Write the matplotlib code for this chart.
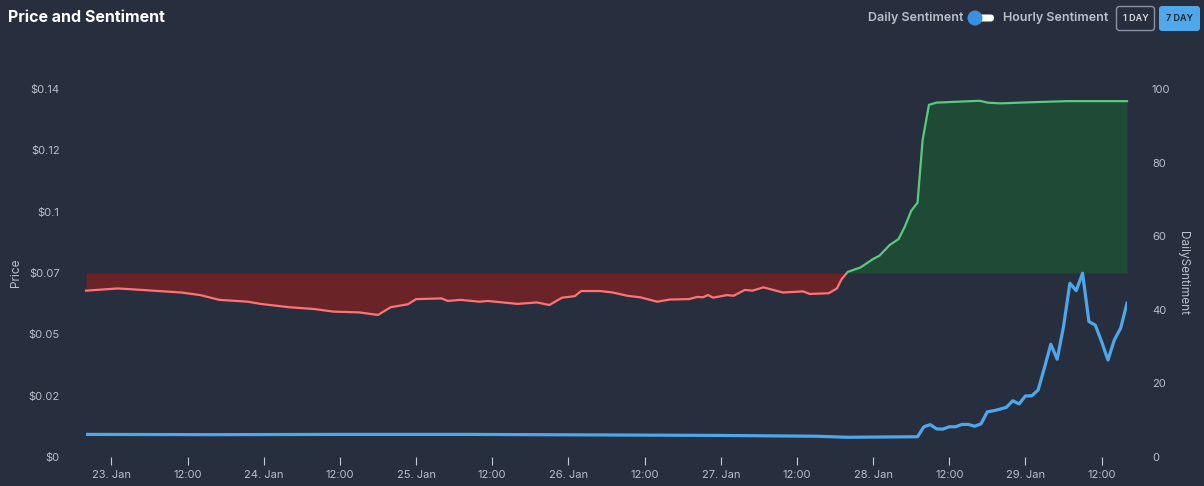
from datetime import datetime, timedelta

import matplotlib
matplotlib.use("Agg")
import matplotlib.pyplot as plt
from matplotlib.patches import Circle, FancyBboxPatch, Rectangle
from matplotlib.ticker import FuncFormatter

plt.rcParams['font.family'] = ['Inter', 'DejaVu Sans']

start = datetime(2023, 1, 22, 20, 0)

# sentiment readings (hours after start, value)
sent_hours = [0, 5, 7, 15, 18, 21, 25.5, 27.5, 32, 36, 39, 43, 46, 48, 50.7, 52,
              56, 57, 59, 62, 63.3, 68, 71, 73, 75, 77, 78, 81, 83, 85.3, 87.3,
              90, 92, 95, 96.3, 97.2, 98, 98.8, 101, 102, 103.8, 105, 106.7,
              109.8, 113, 114, 117, 118.3, 119, 120, 122, 124, 125, 126.6, 128,
              129, 130, 131, 131.8, 132.8, 134, 140.8, 142, 144, 149, 154.5, 164]
sent_values = [45.2, 45.8, 45.6, 44.7, 44.0, 42.7, 42.2, 41.6, 40.7, 40.2, 39.5,
               39.3, 38.6, 40.7, 41.5, 42.9, 43.1, 42.4, 42.7, 42.2, 42.4, 41.6,
               42.0, 41.3, 43.3, 43.7, 45.1, 45.1, 44.7, 43.8, 43.4, 42.2, 42.8,
               42.9, 43.5, 43.4, 44.0, 43.3, 44.0, 43.8, 45.4, 45.2, 46.1, 44.7,
               45.0, 44.3, 44.5, 45.8, 48.2, 50.3, 51.5, 53.8, 54.7, 57.6, 59.2,
               62.6, 66.9, 69.1, 86.1, 95.7, 96.3, 96.8, 96.3, 96.1, 96.4, 96.7,
               96.7]

# price readings (hours after start, USD)
price_hours = [0, 20, 40, 60, 80, 100, 115, 120, 125, 131, 132, 133, 134, 135,
               136, 137, 138, 139, 140, 141, 142, 143, 144, 145, 146, 147, 148,
               149, 150, 151, 152, 153, 154, 155, 156, 157, 158, 159, 160, 161,
               162, 163, 164]
price_values = [0.0086, 0.0085, 0.0086, 0.0086, 0.0084, 0.0082, 0.0079, 0.0075,
                0.0076, 0.0077, 0.0115, 0.0123, 0.0107, 0.0106, 0.0115, 0.0115,
                0.0124, 0.0124, 0.0117, 0.0126, 0.0172, 0.0176, 0.0182, 0.0189,
                0.0214, 0.0202, 0.0232, 0.0233, 0.0255, 0.0340, 0.0429, 0.0372,
                0.0496, 0.0661, 0.0633, 0.0699, 0.0515, 0.0502, 0.0439, 0.0369,
                0.0445, 0.0490, 0.0585]

price_ticks = [0, 0.14 / 6, 0.28 / 6, 0.07, 0.56 / 6, 0.70 / 6, 0.14]
price_labels = ['$0', '$0.02', '$0.05', '$0.07', '$0.1', '$0.12', '$0.14']
sent_ticks = [0, 20, 40, 60, 80, 100]

bg = '#272e3d'
text_col = '#b9c0cc'

sent_t = [start + timedelta(hours=h) for h in sent_hours]
price_t = [start + timedelta(hours=h) for h in price_hours]

fig = plt.figure(figsize=(12.04, 4.86), dpi=100, facecolor=bg)
ax = fig.add_axes([86 / 1204, 29 / 486, 1041 / 1204, 368 / 486])
ax2 = ax.twinx()
ax.set_zorder(ax2.get_zorder() + 1)
ax.patch.set_visible(False)
ax2.set_facecolor(bg)

ax2.fill_between(sent_t, sent_values, 50, where=[v <= 50 for v in sent_values],
                 interpolate=True, color='#6a2428', linewidth=0)
ax2.fill_between(sent_t, sent_values, 50, where=[v >= 50 for v in sent_values],
                 interpolate=True, color='#1f4a36', linewidth=0)

# one line, coloured by side of the 50 threshold via clipping
x0 = matplotlib.dates.date2num(start - timedelta(hours=2))
x1 = matplotlib.dates.date2num(start + timedelta(hours=170))
red_line, = ax2.plot(sent_t, sent_values, color='#ff7276', lw=1.6)
green_line, = ax2.plot(sent_t, sent_values, color='#58cc7c', lw=1.6)
clip_lo = Rectangle((x0, -10), x1 - x0, 60, transform=ax2.transData)
clip_hi = Rectangle((x0, 50), x1 - x0, 60, transform=ax2.transData)
red_line.set_clip_path(clip_lo)
green_line.set_clip_path(clip_hi)

ax.plot(price_t, price_values, color='#4ea7ea', lw=2.3)

ax.set_xlim(start, start + timedelta(hours=164))
ax.set_ylim(0, 0.14)
ax2.set_ylim(0, 100)

ax.set_yticks(price_ticks)
ax.set_yticklabels(price_labels)
ax2.set_yticks(sent_ticks)

xt = [datetime(2023, 1, 23) + timedelta(hours=12 * i) for i in range(14)]
ax.set_xticks(xt)


def fmt_date(x, pos):
    d = matplotlib.dates.num2date(x)
    if d.hour == 0:
        return f'{d.day}. Jan'
    return d.strftime('%H:%M')


ax.xaxis.set_major_formatter(FuncFormatter(fmt_date))

for a in (ax, ax2):
    for s in a.spines.values():
        s.set_visible(False)
    a.tick_params(axis='y', length=0, colors=text_col, labelsize=8)
ax.tick_params(axis='y', pad=19)
ax2.tick_params(axis='y', pad=18)
ax.tick_params(axis='x', length=6, width=0.8, color='#c8ccd4', colors=text_col,
               labelsize=8, pad=3)

ax.set_ylabel('Price', color=text_col, fontsize=8.5)
ax2.set_ylabel('DailySentiment', color=text_col, fontsize=8.5, rotation=270,
               va='bottom')
ax.yaxis.set_label_coords(-0.061, 0.5)
ax2.yaxis.set_label_coords(1.048, 0.5)

fig.text(8 / 1204, 1 - 18 / 486, 'Price and Sentiment', color='white',
         fontsize=11.5, fontweight='bold', va='center', ha='left')

# header controls
fig.text(963 / 1204, 1 - 18 / 486, 'Daily Sentiment', color=text_col,
         fontsize=9, fontweight='semibold', ha='right', va='center')
fig.text(1003 / 1204, 1 - 18 / 486, 'Hourly Sentiment', color=text_col,
         fontsize=9, fontweight='semibold', ha='left', va='center')
hdr = fig.add_axes([0, 0, 1, 1], facecolor='none')
hdr.set_xlim(0, 1204)
hdr.set_ylim(486, 0)
hdr.axis('off')
hdr.add_patch(FancyBboxPatch((977, 14.5), 17, 7, boxstyle='round,pad=0,rounding_size=3.5',
                             fc='white', ec='none'))
hdr.add_patch(Circle((975, 18), 7.5, fc='#3b8fe0', ec='none'))
hdr.add_patch(FancyBboxPatch((1116.5, 6.5), 38, 24, boxstyle='round,pad=0,rounding_size=3',
                             fc='none', ec='#8a93a3', lw=1))
hdr.add_patch(FancyBboxPatch((1159, 6), 41, 25, boxstyle='round,pad=0,rounding_size=3',
                             fc='#4ea8ea', ec='none'))
hdr.text(1135.5, 18.5, '1 DAY', color='#d8dce3', fontsize=6.5, fontweight='semibold',
         ha='center', va='center')
hdr.text(1179.5, 18.5, '7 DAY', color='#1c2330', fontsize=6.5, fontweight='semibold',
         ha='center', va='center')

fig.savefig('out.png', dpi=100, facecolor=bg)
